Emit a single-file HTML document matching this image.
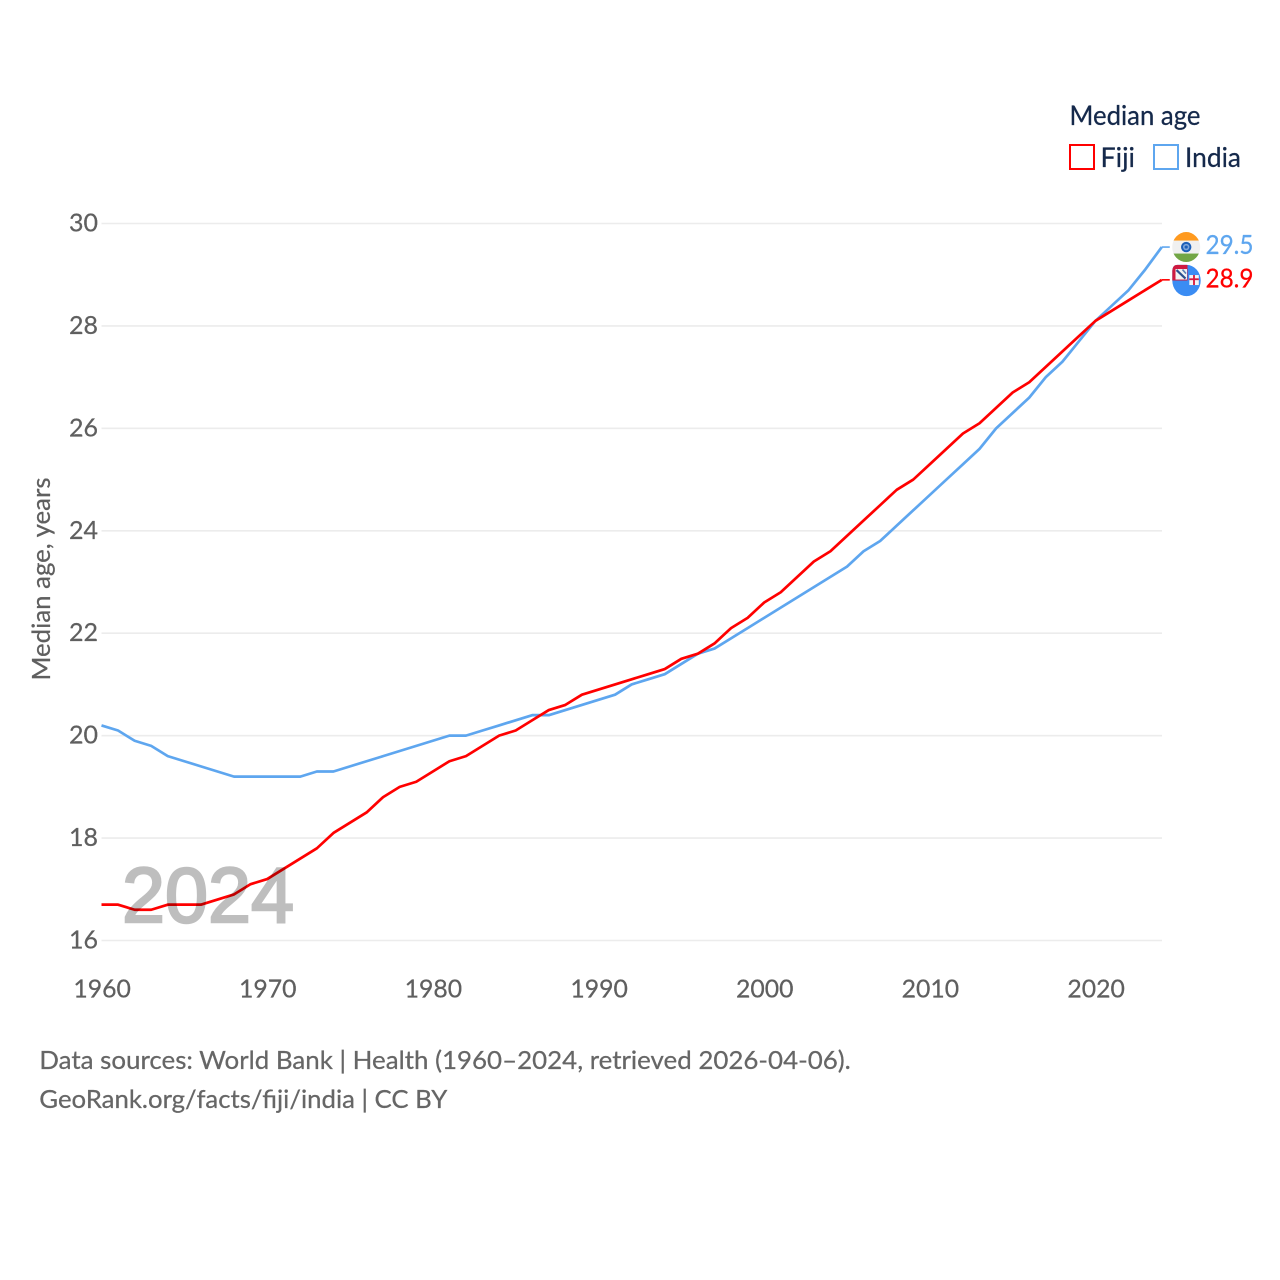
<!DOCTYPE html>
<html lang="en">
<head>
<meta charset="utf-8">
<title>Median age: Fiji and India</title>
<style>
html,body{margin:0;padding:0;background:#fff;}
svg{display:block;}
text{font-family:"Lato","Carlito","Liberation Sans",sans-serif;stroke-width:0.25;paint-order:stroke;}
</style>
</head>
<body>
<svg id="chart" xmlns="http://www.w3.org/2000/svg" width="1280" height="1280" viewBox="0 0 1280 1280">
  <rect x="0" y="0" width="1280" height="1280" fill="#ffffff"/>
  <g id="grid"></g>
  <g id="y-ticks" stroke="#5f5f5f"></g>
  <g id="x-ticks" stroke="#5f5f5f"></g>
  <text transform="translate(50,579) rotate(-90)" text-anchor="middle" font-size="25" fill="#5f5f5f" stroke="#5f5f5f" textLength="203" lengthAdjust="spacingAndGlyphs">Median age, years</text>
  <g id="lines"></g>
  <g opacity="0.25">
    <text x="122" y="922" font-size="78" fill="#000000" stroke="#000000" textLength="172" lengthAdjust="spacingAndGlyphs" style="font-family:'Liberation Sans',sans-serif;stroke-width:2.4">2024</text>
  </g>

  <defs>
    <clipPath id="india-clip"><ellipse cx="0" cy="0" rx="14" ry="15"/></clipPath>
    <clipPath id="fiji-clip"><path d="M-14.2 0A14.2 15.6 0 0 0 14.2 0A14.2 15.6 0 0 0 0-15.6L-9-15.6Q-14.2-15.6-14.2-9Z"/></clipPath>
  </defs>

  <g id="flag-fiji">
    <g clip-path="url(#fiji-clip)">
      <rect x="-15" y="-16" width="30" height="32" fill="#3a8cf3"/>
      <rect x="-15" y="-16" width="16" height="16" fill="#cf1a40"/>
      <rect x="-11" y="-11.5" width="11.5" height="10.5" fill="#f2f2f2"/>
      <path d="M-10-10.5L-1-2" stroke="#2c4f8f" stroke-width="2.2" fill="none"/>
      <path d="M-4-11L-0.5-7" stroke="#5c7fb5" stroke-width="1.6" fill="none"/>
      <rect x="2.8" y="-5.5" width="9.5" height="10" fill="#f4f4f4"/>
      <rect x="2.8" y="-2.2" width="9.5" height="1.8" fill="#d8173c"/>
      <rect x="6.6" y="-5.5" width="1.8" height="10" fill="#d8173c"/>
    </g>
  </g>
  <g id="flag-india">
    <g clip-path="url(#india-clip)">
      <rect x="-15" y="-16" width="30" height="32" fill="#f0f0f0"/>
      <rect x="-15" y="-16" width="30" height="9.5" fill="#ff9a1f"/>
      <rect x="-15" y="6.5" width="30" height="9.5" fill="#72a645"/>
      <circle cx="0" cy="0" r="5.2" fill="#1c5fb8"/>
      <circle cx="0" cy="0" r="3.2" fill="#7fa6da"/>
      <circle cx="0" cy="0" r="1.6" fill="#1c5fb8"/>
    </g>
  </g>
  <g id="end-labels"></g>

  <text x="1069.5" y="125" font-size="27" fill="#15294b" stroke="#15294b" textLength="131" lengthAdjust="spacingAndGlyphs">Median age</text>
  <rect x="1070" y="145" width="24" height="24" fill="none" stroke="#ff0000" stroke-width="2"/>
  <text x="1100.5" y="167" font-size="27" fill="#15294b" stroke="#15294b" textLength="34.5" lengthAdjust="spacingAndGlyphs">Fiji</text>
  <rect x="1154" y="145" width="24" height="24" fill="none" stroke="#5ea6ef" stroke-width="2"/>
  <text x="1185" y="167" font-size="27" fill="#15294b" stroke="#15294b" textLength="56" lengthAdjust="spacingAndGlyphs">India</text>

  <text x="39.3" y="1069" font-size="25.5" fill="#666666" stroke="#666666" textLength="811.5" lengthAdjust="spacingAndGlyphs">Data sources: World Bank | Health (1960–2024, retrieved 2026-04-06).</text>
  <text x="39.3" y="1108" font-size="25.5" fill="#666666" stroke="#666666" textLength="408" lengthAdjust="spacingAndGlyphs">GeoRank.org/facts/fiji/india | CC BY</text>
</svg>

<script>
const years = [1960,1961,1962,1963,1964,1965,1966,1967,1968,1969,1970,1971,1972,1973,1974,1975,1976,1977,1978,1979,1980,1981,1982,1983,1984,1985,1986,1987,1988,1989,1990,1991,1992,1993,1994,1995,1996,1997,1998,1999,2000,2001,2002,2003,2004,2005,2006,2007,2008,2009,2010,2011,2012,2013,2014,2015,2016,2017,2018,2019,2020,2021,2022,2023,2024];
const fijiValues = [16.7,16.7,16.6,16.6,16.7,16.7,16.7,16.8,16.9,17.1,17.2,17.4,17.6,17.8,18.1,18.3,18.5,18.8,19.0,19.1,19.3,19.5,19.6,19.8,20.0,20.1,20.3,20.5,20.6,20.8,20.9,21.0,21.1,21.2,21.3,21.5,21.6,21.8,22.1,22.3,22.6,22.8,23.1,23.4,23.6,23.9,24.2,24.5,24.8,25.0,25.3,25.6,25.9,26.1,26.4,26.7,26.9,27.2,27.5,27.8,28.1,28.3,28.5,28.7,28.9];
const indiaValues = [20.2,20.1,19.9,19.8,19.6,19.5,19.4,19.3,19.2,19.2,19.2,19.2,19.2,19.3,19.3,19.4,19.5,19.6,19.7,19.8,19.9,20.0,20.0,20.1,20.2,20.3,20.4,20.4,20.5,20.6,20.7,20.8,21.0,21.1,21.2,21.4,21.6,21.7,21.9,22.1,22.3,22.5,22.7,22.9,23.1,23.3,23.6,23.8,24.1,24.4,24.7,25.0,25.3,25.6,26.0,26.3,26.6,27.0,27.3,27.7,28.1,28.4,28.7,29.1,29.54];
const yTickValues = [16,18,20,22,24,26,28,30];
const xTickValues = [1960,1970,1980,1990,2000,2010,2020];

const NS = 'http://www.w3.org/2000/svg';
function xScale(year){ return 101.5 + (year - 1960) * (1095.5 - 101.5) / 60; }
function yScale(value){ return 940.5 - (value - 16) * (940.5 - 223.5) / 14; }
function make(tag, attrs, parent){
  const el = document.createElementNS(NS, tag);
  for (const k in attrs) el.setAttribute(k, attrs[k]);
  parent.appendChild(el);
  return el;
}

const gridGroup = document.getElementById('grid');
const yTickGroup = document.getElementById('y-ticks');
yTickValues.forEach(function(v){
  const line = make('line', {x1:101.5, x2:1162, y1:yScale(v), y2:yScale(v), stroke:'#ececec', 'stroke-width':1.6}, gridGroup);
  
  
  const label = make('text', {x:98, y:yScale(v)+8, 'text-anchor':'end', 'font-size':25.5, fill:'#5f5f5f', textLength:29, lengthAdjust:'spacingAndGlyphs'}, yTickGroup);
  label.textContent = v;
  
  
});

const xTickGroup = document.getElementById('x-ticks');
xTickValues.forEach(function(y){
  const label = make('text', {x:xScale(y)+0.6, y:997.5, 'text-anchor':'middle', 'font-size':25.5, fill:'#5f5f5f', textLength:57.5, lengthAdjust:'spacingAndGlyphs'}, xTickGroup);
  label.textContent = y;
  
  
});

const lineGroup = document.getElementById('lines');
function drawSeries(values, color){
  const pts = values.map(function(v, i){ return xScale(years[i]).toFixed(2) + ',' + yScale(v).toFixed(2); });
  return make('polyline', {points:pts.join(' '), fill:'none', stroke:color, 'stroke-width':2.7, 'stroke-linejoin':'round'}, lineGroup);
}
function drawStub(values, color){
  const x = xScale(years[years.length - 1]);
  const y = yScale(values[values.length - 1]);
  return make('line', {x1:x, x2:x + 8, y1:y, y2:y, stroke:color, 'stroke-width':1.6}, lineGroup);
}
const indiaLine = drawSeries(indiaValues, '#5ea6ef');


const fijiLine = drawSeries(fijiValues, '#ff0000');


const indiaStub = drawStub(indiaValues, '#5ea6ef');


const fijiStub = drawStub(fijiValues, '#ff0000');



const fijiLast = fijiValues[fijiValues.length - 1];
const indiaLast = indiaValues[indiaValues.length - 1];
document.getElementById('flag-fiji').setAttribute('transform', 'translate(1186.5,' + (yScale(fijiLast) + 0.7) + ')');
document.getElementById('flag-india').setAttribute('transform', 'translate(1186.2,' + yScale(indiaLast) + ')');

const labelGroup = document.getElementById('end-labels');
const indiaLabel = make('text', {x:1205.5, y:yScale(indiaLast)+7, 'font-size':26, fill:'#5ea6ef', stroke:'#5ea6ef', textLength:48, lengthAdjust:'spacingAndGlyphs'}, labelGroup);
indiaLabel.textContent = indiaLast.toFixed(1);


const fijiLabel = make('text', {x:1205.5, y:yScale(fijiLast)+7.5, 'font-size':26, fill:'#ff0000', stroke:'#ff0000', textLength:48, lengthAdjust:'spacingAndGlyphs'}, labelGroup);
fijiLabel.textContent = fijiLast.toFixed(1);


</script>
</body>
</html>
